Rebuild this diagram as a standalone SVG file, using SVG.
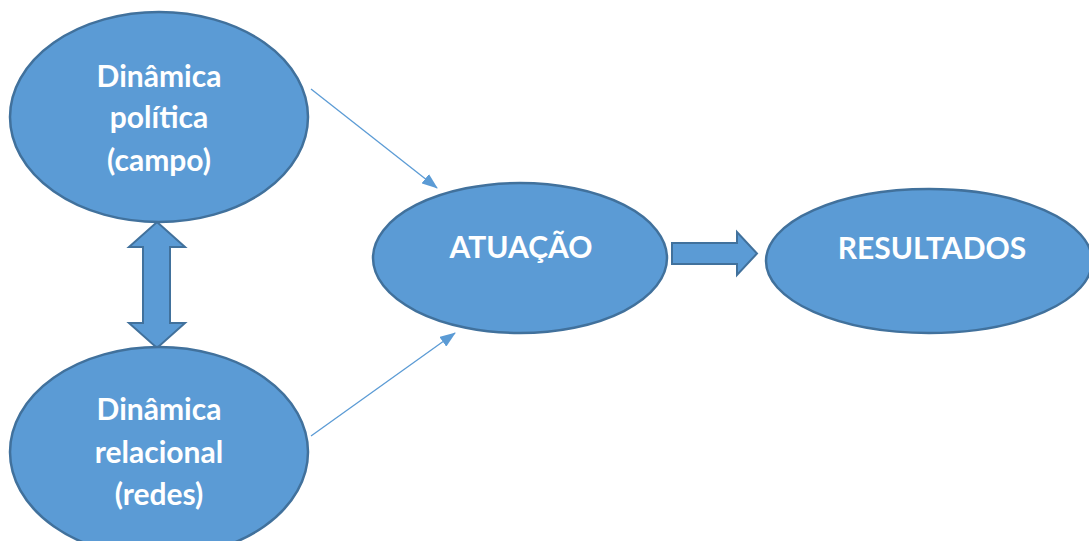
<svg xmlns="http://www.w3.org/2000/svg" width="1089" height="541" viewBox="0 0 1089 541">
<defs>
<style>
.node{fill:#5B9BD5;stroke:#41719C;stroke-width:2.5}
.lbl{fill:#fff;font-family:Lato,"Open Sans","Liberation Sans",sans-serif;font-weight:bold;font-size:30px;text-anchor:middle}
.thin{stroke:#5B9BD5;stroke-width:1.3;fill:none;marker-end:url(#ah)}
.block{fill:#5B9BD5;stroke:#41719C;stroke-width:2}
</style>
<marker id="ah" markerWidth="16" markerHeight="12" refX="15" refY="6" orient="auto" markerUnits="userSpaceOnUse">
<path d="M0,0 L16,6 L0,12 Z" fill="#5B9BD5"/>
</marker>
</defs>
<rect width="1089" height="541" fill="#fff"/>
<g id="connectors">
<line class="thin" x1="311" y1="89" x2="437" y2="188"/>
<line class="thin" x1="311" y1="436" x2="455" y2="333"/>
<path class="block" d="M157,222 L185,247 L170,247 L170,323 L185,323 L157,348 L129,323 L143,323 L143,247 L129,247 Z"/>
<path class="block" d="M672,243 L737,243 L737,232 L757,253.5 L737,275 L737,264 L672,264 Z"/>
</g>
<g id="n-politica">
<ellipse class="node" cx="159" cy="117" rx="149" ry="105"/>
<text class="lbl" x="159" y="87">Dinâmica</text>
<text class="lbl" x="159" y="128">política</text>
<text class="lbl" x="159" y="171">(campo)</text>
</g>
<g id="n-relacional">
<ellipse class="node" cx="159" cy="452" rx="149" ry="105"/>
<text class="lbl" x="159" y="420">Dinâmica</text>
<text class="lbl" x="159" y="463">relacional</text>
<text class="lbl" x="159" y="505">(redes)</text>
</g>
<g id="n-atuacao">
<ellipse class="node" cx="520" cy="258" rx="147" ry="75"/>
<text class="lbl" x="521" y="258">ATUAÇÃO</text>
</g>
<g id="n-resultados">
<ellipse class="node" cx="929" cy="261" rx="163" ry="72"/>
<text class="lbl" x="932" y="259">RESULTADOS</text>
</g>
</svg>
